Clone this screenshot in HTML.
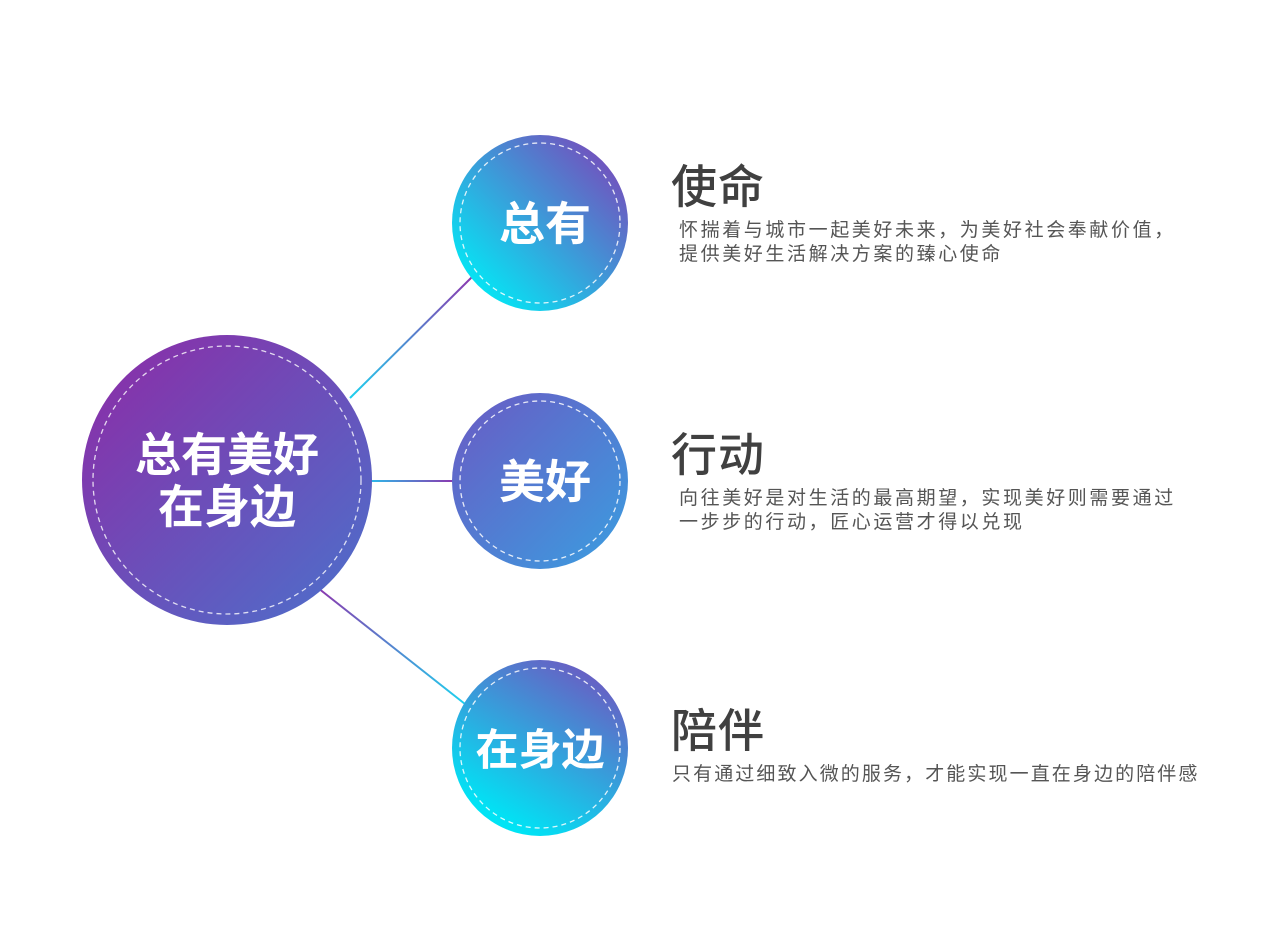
<!DOCTYPE html>
<html><head><meta charset="utf-8"><style>
html,body{margin:0;padding:0;background:#fff;}
svg{display:block}
text{font-family:"Liberation Sans","Noto Sans CJK SC",sans-serif;}
.d{font-size:19px;fill:#555;letter-spacing:2.6px}
.t{font-size:46px;font-weight:500;fill:#404040;letter-spacing:1px}
</style></head><body>
<svg width="1269" height="946" viewBox="0 0 1269 946" xmlns="http://www.w3.org/2000/svg">
<defs>
<linearGradient id="gBig" x1="0" y1="0" x2="1" y2="1">
<stop offset="0" stop-color="#8e2aa6"/><stop offset="1" stop-color="#4a72cc"/></linearGradient>
<linearGradient id="gTop" x1="1" y1="0" x2="0" y2="1">
<stop offset="0.05" stop-color="#7d43b8"/><stop offset="0.9" stop-color="#00ecf7"/></linearGradient>
<linearGradient id="gMid" x1="0" y1="0" x2="1" y2="1">
<stop offset="0" stop-color="#6a5ac4"/><stop offset="1" stop-color="#3a9ee0"/></linearGradient>
<linearGradient id="gBot" x1="0.8" y1="0" x2="0.2" y2="1">
<stop offset="0" stop-color="#6f56c0"/><stop offset="0.9" stop-color="#00e4f5"/></linearGradient>
<linearGradient id="l1" x1="350" y1="398" x2="470" y2="278" gradientUnits="userSpaceOnUse">
<stop offset="0" stop-color="#1ed0ee"/><stop offset="1" stop-color="#8a3ab0"/></linearGradient>
<linearGradient id="l2" x1="372" y1="0" x2="452" y2="0" gradientUnits="userSpaceOnUse">
<stop offset="0" stop-color="#2fb6e8"/><stop offset="1" stop-color="#8a3ab0"/></linearGradient>
<linearGradient id="l3" x1="320" y1="590" x2="463" y2="703" gradientUnits="userSpaceOnUse">
<stop offset="0" stop-color="#8a3ab0"/><stop offset="1" stop-color="#1ed0ee"/></linearGradient>
</defs>
<line x1="350" y1="398" x2="472" y2="277" stroke="url(#l1)" stroke-width="2"/>
<line x1="370" y1="481" x2="454" y2="481" stroke="url(#l2)" stroke-width="2"/>
<line x1="318" y1="588" x2="465" y2="704" stroke="url(#l3)" stroke-width="2"/>

<circle cx="227" cy="480" r="145" fill="url(#gBig)"/>
<circle cx="227" cy="480" r="134" fill="none" stroke="#fff" stroke-opacity="0.8" stroke-width="1.3" stroke-dasharray="5,4"/>
<text x="227" y="471" font-size="46" font-weight="bold" fill="#fff" text-anchor="middle">总有美好</text>
<text x="227" y="523" font-size="46" font-weight="bold" fill="#fff" text-anchor="middle">在身边</text>

<circle cx="540" cy="223" r="88" fill="url(#gTop)"/>
<circle cx="540" cy="223" r="80" fill="none" stroke="#fff" stroke-opacity="0.85" stroke-width="1.3" stroke-dasharray="5,4"/>
<text x="545" y="240" font-size="46" font-weight="bold" fill="#fff" text-anchor="middle">总有</text>

<circle cx="540" cy="481" r="88" fill="url(#gMid)"/>
<circle cx="540" cy="481" r="80" fill="none" stroke="#fff" stroke-opacity="0.85" stroke-width="1.3" stroke-dasharray="5,4"/>
<text x="545" y="498" font-size="46" font-weight="bold" fill="#fff" text-anchor="middle">美好</text>

<circle cx="540" cy="748" r="88" fill="url(#gBot)"/>
<circle cx="540" cy="748" r="80" fill="none" stroke="#fff" stroke-opacity="0.85" stroke-width="1.3" stroke-dasharray="5,4"/>
<text x="540" y="765" font-size="43" font-weight="bold" fill="#fff" text-anchor="middle">在身边</text>

<text class="t" x="671" y="203">使命</text>
<text class="d" x="679" y="236">怀揣着与城市一起美好未来，为美好社会奉献价值，</text>
<text class="d" x="679" y="260">提供美好生活解决方案的臻心使命</text>

<text class="t" x="671" y="471">行动</text>
<text class="d" x="679" y="504">向往美好是对生活的最高期望，实现美好则需要通过</text>
<text class="d" x="679" y="528">一步步的行动，匠心运营才得以兑现</text>

<text class="t" x="671" y="747">陪伴</text>
<text class="d" x="672" y="780" style="letter-spacing:2.1px">只有通过细致入微的服务，才能实现一直在身边的陪伴感</text>
</svg>
</body></html>
